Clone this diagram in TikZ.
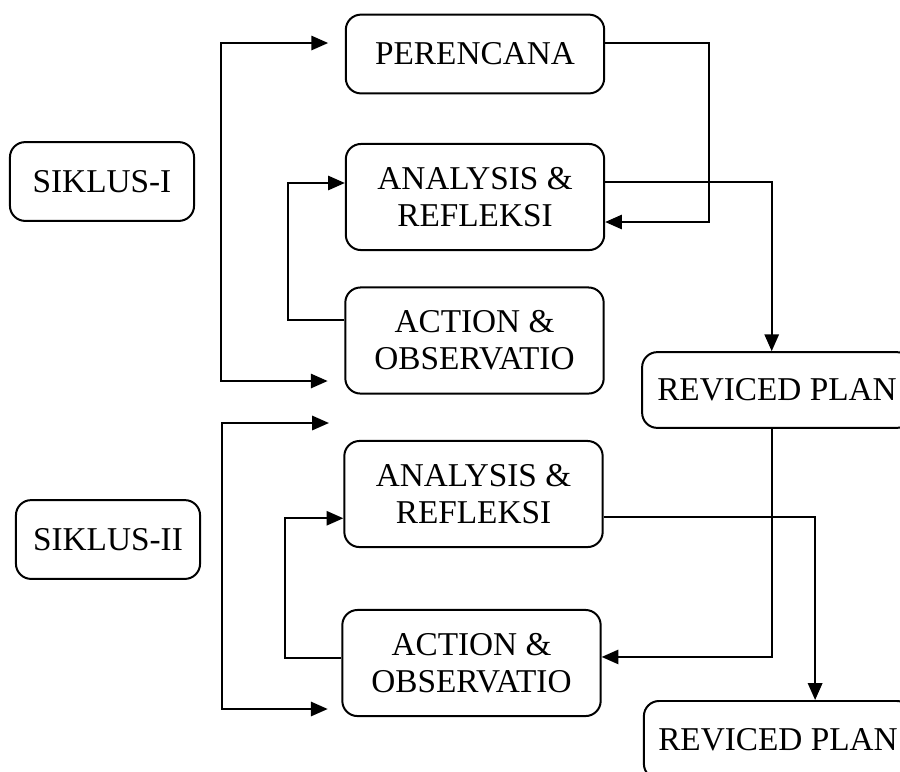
\documentclass[tikz,border=0pt]{standalone}
\usepackage{fontspec}
\setmainfont{Liberation Serif}
\usepackage{tikz}
\usetikzlibrary{positioning,arrows.meta}

\begin{document}
\begin{tikzpicture}[x=0.0132cm,y=-0.0132cm,
  box/.style={
   draw,
   line width=0.75pt,
   rounded corners=0.2cm,
   align=center,
   inner sep=2pt,
   font=\fontsize{12.5}{14}\selectfont
  },
  stage/.style={
   box,
   minimum width=3.41cm,
   minimum height=1.40cm
  },
  side/.style={
   box,
   minimum width=2.43cm,
   minimum height=1.04cm
  },
  tip/.tip={Triangle[length=6.3pt,width=5.4pt]},
  flow/.style={
   line width=0.65pt,
   -tip
  }]
  \useasboundingbox (0,0) rectangle (900,771);
  % siklus I
  \node[box,minimum width=3.41cm,minimum height=1.04cm] at (475,54)
      (plan) {PERENCANA};
  \node[stage] at (475,197)
      (ana1) {ANALYSIS \&\\REFLEKSI};
  \node[stage] at (474.5,340.5)
      (act1) {ACTION \&\\OBSERVATIO};
  \node[side] at (102,181.5)
      (sik1) {SIKLUS-I};
  \node[box,minimum width=3.56cm,minimum height=1.0cm] at (777,390)
      (rp1) {REVICED PLAN};
  % siklus II
  \node[stage] at (473.5,494)
      (ana2) {ANALYSIS \&\\REFLEKSI};
  \node[stage] at (471.5,663)
      (act2) {ACTION \&\\OBSERVATIO};
  \node[side] at (108,539.5)
      (sik2) {SIKLUS-II};
  \node[box,minimum width=3.54cm,minimum height=1.03cm] at (778,740)
      (rp2) {REVICED PLAN};

  \coordinate (l1) at (221,43);
  \coordinate (l2) at (221,381);
  \coordinate (l3) at (222,423);
  \coordinate (l4) at (222,709);

  \draw[flow,tip-tip,shorten <=0.22cm,shorten >=0.22cm]
    (l1 -| plan.west) -- (l1) -- (l2) -- (l2 -| act1.west);
  \draw[flow,tip-tip,shorten <=0.19cm,shorten >=0.18cm]
    (l3 -| ana2.west) -- (l3) -- (l4) -- (l4 -| act2.west);

  \draw[flow] ([yshift=0.27cm]act1.west) -- ++(-56,0) |- ([yshift=0.185cm]ana1.west);
  \draw[flow] ([yshift=0.145cm]plan.east) -- ++(104,0) |- ([yshift=-0.33cm]ana1.east);
  \draw[flow] ([yshift=0.2cm]ana1.east) -| ([xshift=-0.07cm]rp1.north);
  \draw[flow] ([xshift=-0.07cm]rp1.south) |- ([yshift=0.08cm]act2.east);
  \draw[flow] ([yshift=-0.3cm]ana2.east) -| ([xshift=0.49cm]rp2.north);
  \draw[flow] ([yshift=0.066cm]act2.west) -- ++(-56,0) |- ([yshift=-0.32cm]ana2.west);
\end{tikzpicture}
\end{document}
